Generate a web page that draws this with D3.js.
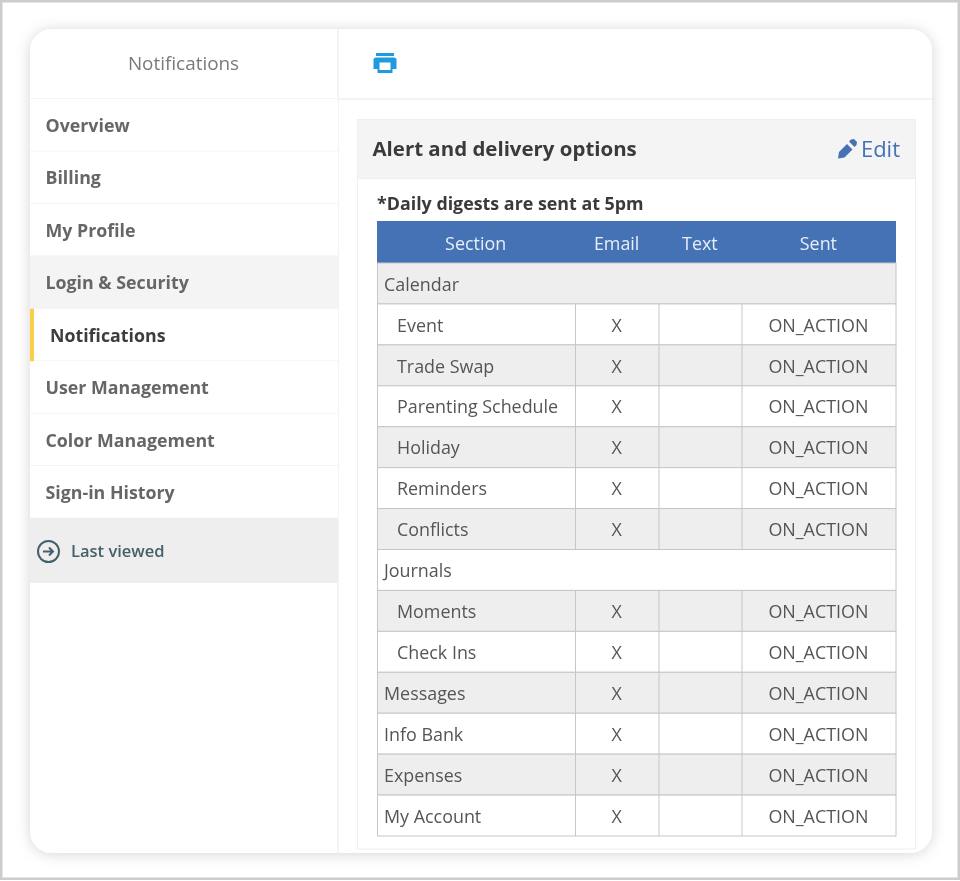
<!DOCTYPE html>
<html lang="en">
<head>
  <meta charset="UTF-8">
  <title>Notifications</title>
  <script src="https://d3js.org/d3.v7.min.js"></script>
  <style>
    html, body { margin: 0; padding: 0; background: #fff; }
    svg { display: block; font-family: "Open Sans", sans-serif; filter: blur(0.35px); }
  </style>
</head>
<body>
  <svg width="960" height="881"></svg>
  <script>
    // menu on the left
    const menuItems = ["Overview", "Billing", "My Profile", "Login & Security", "Notifications", "User Management", "Color Management", "Sign-in History"];
    const hoverItem = "Login & Security";
    const activeItem = "Notifications";

    // table contents
    const columns = ["Section", "Email", "Text", "Sent"];
    const sections = ["Calendar", "Event", "Trade Swap", "Parenting Schedule", "Holiday", "Reminders", "Conflicts", "Journals", "Moments", "Check Ins", "Messages", "Info Bank", "Expenses", "My Account"];
    const groupRows = ["Calendar", "Journals"];
    const childRows = ["Event", "Trade Swap", "Parenting Schedule", "Holiday", "Reminders", "Conflicts", "Moments", "Check Ins"];
    const emailValues = ["", "X", "X", "X", "X", "X", "X", "", "X", "X", "X", "X", "X", "X"];
    const textValues = ["", "", "", "", "", "", "", "", "", "", "", "", "", ""];
    const sentValues = ["", "ON_ACTION", "ON_ACTION", "ON_ACTION", "ON_ACTION", "ON_ACTION", "ON_ACTION", "", "ON_ACTION", "ON_ACTION", "ON_ACTION", "ON_ACTION", "ON_ACTION", "ON_ACTION"];

    const svg = d3.select("svg");
    const defs = svg.append("defs");

    const shadow = defs.append("filter").attr("id", "card-shadow")
      .attr("x", "-5%").attr("y", "-5%").attr("width", "110%").attr("height", "110%");
    shadow.append("feDropShadow")
      .attr("dx", 0).attr("dy", 1).attr("stdDeviation", 7)
      .attr("flood-color", "#000").attr("flood-opacity", 0.17);

    defs.append("clipPath").attr("id", "card-clip")
      .append("rect").attr("x", 30).attr("y", 29).attr("width", 902).attr("height", 824).attr("rx", 22);

    // page frame and card
    svg.append("rect").attr("x", 1.25).attr("y", 1.25).attr("width", 957.5).attr("height", 877.5)
      .attr("fill", "#fff").attr("stroke", "#cdcdcd").attr("stroke-width", 2.5);
    svg.append("rect").attr("x", 30).attr("y", 29).attr("width", 902).attr("height", 824).attr("rx", 22)
      .attr("fill", "#fff").attr("filter", "url(#card-shadow)");

    const card = svg.append("g").attr("clip-path", "url(#card-clip)");
    const sideLeft = 30, sideRight = 338;

    card.append("line").attr("x1", sideRight).attr("x2", sideRight).attr("y1", 29).attr("y2", 853)
      .attr("stroke", "#f0f0f0").attr("stroke-width", 1.5);
    card.append("line").attr("x1", sideLeft).attr("x2", 932).attr("y1", 99).attr("y2", 99)
      .attr("stroke", "#f0f0f0").attr("stroke-width", 1.5);

    card.append("text").attr("x", 183.5).attr("y", 70).attr("text-anchor", "middle")
      .attr("font-size", 18.9).attr("fill", "#7a7a7a").text("Notifications");

    // printer icon
    const printer = card.append("g").attr("fill", "#1e9bdc");
    printer.append("rect").attr("x", 376).attr("y", 53).attr("width", 18).attr("height", 3);
    printer.append("path").attr("fill-rule", "evenodd")
      .attr("d", "M376 57.5h18a2.5 2.5 0 0 1 2.5 2.5v9h-4v4h-15v-4h-4v-9a2.5 2.5 0 0 1 2.5-2.5zM379.500 62.500v7.500h11v-7.500z");

    // sidebar rows
    const menuY = d3.scaleBand().domain(menuItems).range([99, 518.5]);
    const menu = card.selectAll("g.menu").data(menuItems).enter().append("g").attr("class", "menu");

    menu.append("rect")
      .attr("x", sideLeft).attr("y", d => menuY(d))
      .attr("width", sideRight - sideLeft).attr("height", menuY.bandwidth())
      .attr("fill", d => d === hoverItem ? "#f4f4f4" : "#fff");
    menu.append("line")
      .attr("x1", sideLeft).attr("x2", sideRight)
      .attr("y1", d => menuY(d) + menuY.bandwidth()).attr("y2", d => menuY(d) + menuY.bandwidth())
      .attr("stroke", "#f0f0f0").attr("stroke-width", 1.5);
    menu.append("text")
      .attr("x", d => d === activeItem ? 50 : 45.5)
      .attr("y", d => menuY(d) + menuY.bandwidth() / 2 + 6.7)
      .attr("font-size", 17.8).attr("font-weight", 700)
      .attr("fill", d => d === activeItem ? "#3d3d3d" : "#666")
      .text(d => d);

    card.append("rect").attr("x", sideLeft).attr("y", menuY(activeItem))
      .attr("width", 4).attr("height", menuY.bandwidth()).attr("fill", "#f8cf47");

    // last viewed
    card.append("rect").attr("x", sideLeft).attr("y", 518.500).attr("width", sideRight - sideLeft).attr("height", 64.5)
      .attr("fill", "#eeeeee");
    card.append("circle").attr("cx", 48.500).attr("cy", 551.500).attr("r", 10.500)
      .attr("fill", "none").attr("stroke", "#45606b").attr("stroke-width", 2);
    card.append("path").attr("d", "M43 551.500h9M49 547.500l4 4l-4 4")
      .attr("fill", "none").attr("stroke", "#45606b").attr("stroke-width", 2);
    card.append("text").attr("x", 71).attr("y", 557).attr("font-size", 16.5).attr("font-weight", 600)
      .attr("fill", "#45606b").text("Last viewed");

    // panel
    card.append("rect").attr("x", 357.5).attr("y", 119.5).attr("width", 558).attr("height", 729.5)
      .attr("fill", "#fff").attr("stroke", "#efefef");
    card.append("rect").attr("x", 357.5).attr("y", 119.5).attr("width", 558).attr("height", 59)
      .attr("fill", "#f4f4f4").attr("stroke", "#efefef");
    card.append("text").attr("x", 372.5).attr("y", 156).attr("font-size", 20.45).attr("font-weight", 700)
      .attr("fill", "#3a3a3a").text("Alert and delivery options");
    card.append("path").attr("fill", "#4472b4")
      .attr("d", "M851 139.500l3 -0.500l3 3l-0.500 3l-2 2l-5.500 -5.500zM847 144l5.500 5.500l-8 8l-6.500 1l1 -6.500z");
    card.append("text").attr("x", 900).attr("y", 157).attr("text-anchor", "end").attr("font-size", 22)
      .attr("font-weight", 500).attr("fill", "#4472b4").text("Edit");
    card.append("text").attr("x", 377).attr("y", 209.500).attr("font-size", 17.85).attr("font-weight", 700)
      .attr("fill", "#3a3a3a").text("*Daily digests are sent at 5pm");

    // table
    const colX = d3.scaleOrdinal().domain(columns).range([377, 575.5, 659, 742]);
    const tableRight = 896;
    const colEdge = c => {
      const i = columns.indexOf(c);
      return i === columns.length - 1 ? tableRight : colX(columns[i + 1]);
    };
    const colMid = c => (colX(c) + colEdge(c)) / 2 - 0.6;
    const rowY = d3.scaleBand().domain(sections).range([263, 836]);
    const rowH = rowY.bandwidth();

    const table = card.append("g").attr("font-size", 17.9).attr("fill", "#555");

    table.append("rect").attr("x", 377).attr("y", 221).attr("width", tableRight - 377).attr("height", 42)
      .attr("fill", "#4472b4");
    table.selectAll("text.head").data(columns).enter().append("text").attr("class", "head")
      .attr("x", colMid).attr("y", 249.6).attr("text-anchor", "middle").attr("fill", "#e8eef7")
      .text(d => d);

    const rows = table.selectAll("g.row").data(sections).enter().append("g").attr("class", "row")
      .attr("transform", d => `translate(0,${rowY(d)})`);

    rows.append("rect")
      .attr("x", 377.5).attr("width", tableRight - 377.5).attr("height", rowH)
      .attr("fill", (d, i) => i % 2 === 0 ? "#eeeeee" : "#fff")
      .attr("stroke", "#c6c6c6").attr("stroke-width", 1);

    rows.append("text")
      .attr("x", d => childRows.includes(d) ? 397 : 384)
      .attr("y", rowH / 2 + 7.2)
      .text(d => d);

    // cell borders for the rows that are not merged
    const valueRows = rows.filter(d => !groupRows.includes(d));
    valueRows.selectAll("line").data(columns.slice(1)).enter().append("line")
      .attr("x1", d => colX(d)).attr("x2", d => colX(d))
      .attr("y1", 0).attr("y2", rowH)
      .attr("stroke", "#c6c6c6").attr("stroke-width", 1);

    const cellValues = { Email: emailValues, Text: textValues, Sent: sentValues };
    columns.slice(1).forEach(c => {
      table.selectAll(`text.cell-${c}`).data(cellValues[c]).enter().append("text")
        .attr("class", `cell-${c}`)
        .attr("x", colMid(c))
        .attr("y", (d, i) => rowY(sections[i]) + rowH / 2 + 7.2)
        .attr("text-anchor", "middle")
        .text(d => d);
    });
  </script>
</body>
</html>
